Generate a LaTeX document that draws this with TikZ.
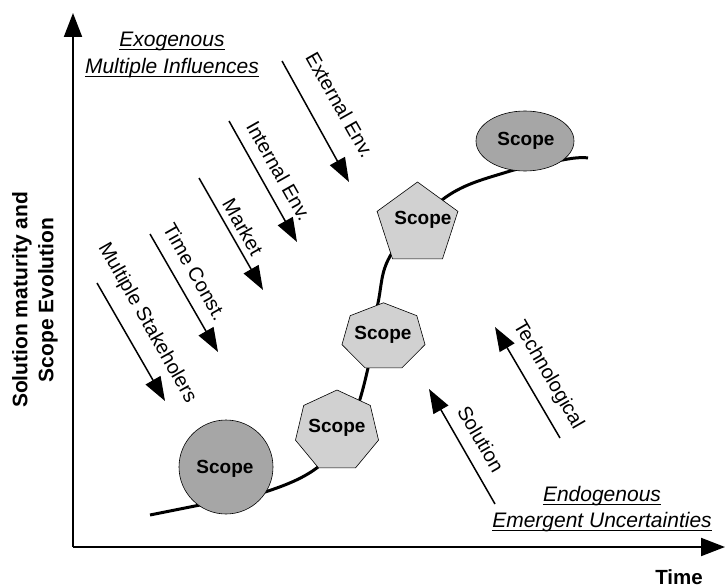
\documentclass[tikz,border=0pt]{standalone}
\usepackage{fontspec}
\setmainfont{Liberation Sans}
\usetikzlibrary{arrows.meta,calc,shapes.geometric}
\begin{document}
\begin{tikzpicture}[x=1pt,y=-1pt,
  axisline/.style={line width=2pt,-{Triangle[length=24pt,width=18pt]}},
  force/.style={line width=1.5pt,-{Triangle[length=24pt,width=17pt]}},
  lbl/.style={font=\fontsize{20}{24}\selectfont, inner sep=0pt},
  head/.style={font=\itshape\fontsize{21}{24}\selectfont, inner sep=0pt},
  scopetxt/.style={font=\bfseries\fontsize{19}{22}\selectfont, inner sep=0pt},
  darkscope/.style={draw=black, line width=0.6pt, fill=black!35},
  lightscope/.style={draw=black, line width=0.6pt, fill=black!18},
  path/.style={line width=3pt}
]
\useasboundingbox (0,0) rectangle (725,588);

% axes
\coordinate (origin) at (73,547);
\coordinate (ytop) at (73,13);
\coordinate (xend) at (725,547);
\draw[axisline] (origin) -- (ytop);
\draw[axisline] (origin) -- (xend);

\node[font=\bfseries\fontsize{21}{26}\selectfont, align=center, rotate=90]
  (ylab) at (35,300) {Solution maturity and\\Scope Evolution};
\node[font=\bfseries\fontsize{20.5}{24}\selectfont, anchor=base, inner sep=0pt]
  (xlab) at (679,584) {Time};

% evolution path of the scope
\coordinate (p0) at (150,515);
\coordinate (p1) at (588,158);
\draw[path] plot[smooth, tension=0.6] coordinates {
  (p0) (200,505) (265,492) (318,467) (350,425) (368,368) (378,303)
  (392,253) (446,197) (507,172) (568,159) (p1)};

% scope shapes along the path
\node[circle, darkscope, minimum size=94pt] (circ) at (226,467) {};
\node[scopetxt] (s1) at (225,469) {Scope};

\draw[lightscope] plot[samples at={0,...,6}, variable=\k]
  ({337+42.6*cos(-90+\k*360/7)}, {431+41*sin(-90+\k*360/7)}) -- cycle;
\node[scopetxt] (s2) at (337,428) {Scope};

\draw[lightscope] plot[samples at={0,...,6}, variable=\k]
  ({383.5+42.6*cos(-90+\k*360/7)}, {337+34.2*sin(-90+\k*360/7)}) -- cycle;
\node[scopetxt] (s3) at (383,335) {Scope};

\draw[lightscope] plot[samples at={0,...,4}, variable=\k]
  ({417.5+42.5*cos(-90+\k*72)}, {224.5+42.5*sin(-90+\k*72)}) -- cycle;
\node[scopetxt] (s4) at (423,220) {Scope};

\node[ellipse, darkscope, minimum width=98pt, minimum height=60pt] (ell) at (525,141) {};
\node[scopetxt] (s5) at (526,141) {Scope};

% exogenous influences
\node[head, anchor=base] (exo1) at (172,47) {Exogenous};
\node[head, anchor=base] (exo2) at (172,74) {Multiple Influences};
\draw[line width=1pt] ([yshift=-3pt]exo1.base west) -- ([yshift=-3pt]exo1.base east);
\draw[line width=1pt] ([yshift=-3pt]exo2.base west) -- ([yshift=-3pt]exo2.base east);

\coordinate (e1a) at (282,61);  \coordinate (e1b) at (349,182);
\coordinate (e2a) at (229,121); \coordinate (e2b) at (297,242);
\coordinate (e3a) at (199,178); \coordinate (e3b) at (263,290);
\coordinate (e4a) at (150,234); \coordinate (e4b) at (218,352);
\coordinate (e5a) at (97,283);  \coordinate (e5b) at (165,401);
\draw[force] (e1a) -- (e1b);
\draw[force] (e2a) -- (e2b);
\draw[force] (e3a) -- (e3b);
\draw[force] (e4a) -- (e4b);
\draw[force] (e5a) -- (e5b);
\node[lbl, rotate=-60.5] (l1) at (340,105) {External Env.};
\node[lbl, rotate=-60.5] (l2) at (279,171) {Internal Env.};
\node[lbl, rotate=-60.5] (l3) at (243,227) {Market};
\node[lbl, rotate=-60.5] (l4) at (195,272) {Time Const.};
\node[lbl, rotate=-60.5] (l5) at (147,323) {Multiple Stakeholers};

% endogenous uncertainties
\node[head, anchor=base] (endo1) at (602,501) {Endogenous};
\node[head, anchor=base] (endo2) at (602,527) {Emergent Uncertainties};
\draw[line width=1pt] ([yshift=-3pt]endo1.base west) -- ([yshift=-3pt]endo1.base east);
\draw[line width=1pt] ([yshift=-3pt]endo2.base west) -- ([yshift=-3pt]endo2.base east);

\coordinate (u1a) at (495,504); \coordinate (u1b) at (429,389);
\coordinate (u2a) at (560,438); \coordinate (u2b) at (495,327);
\draw[force] (u1a) -- (u1b);
\draw[force] (u2a) -- (u2b);
\node[lbl, rotate=-60] (l6) at (481,439) {Solution};
\node[lbl, rotate=-60] (l7) at (548,375) {Technological};
\end{tikzpicture}
\end{document}
